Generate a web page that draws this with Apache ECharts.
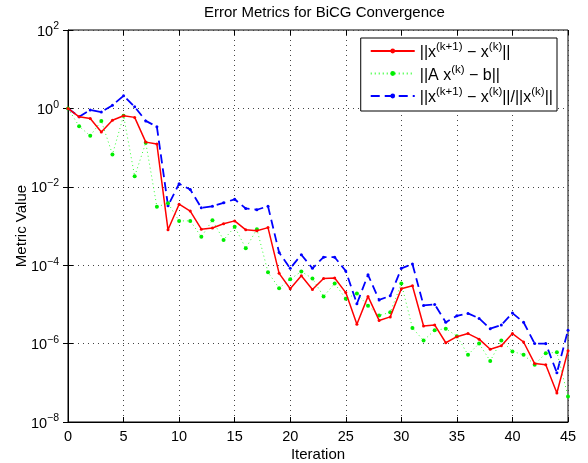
<!DOCTYPE html>
<html>
<head>
<meta charset="utf-8">
<script src="https://cdn.jsdelivr.net/npm/echarts@6/dist/echarts.min.js"></script>
<style>
html, body { margin: 0; padding: 0; background: #fff; }
#main { width: 588px; height: 463px; }
</style>
</head>
<body>
<div id="main"></div>
<script>
// 迭代次数
var iterations = [0, 1, 2, 3, 4, 5, 6, 7, 8, 9, 10, 11, 12, 13, 14, 15, 16, 17, 18, 19, 20, 21, 22,
	23, 24, 25, 26, 27, 28, 29, 30, 31, 32, 33, 34, 35, 36, 37, 38, 39, 40, 41, 42, 43, 44, 45];
// ||x(k+1) - x(k)||
var stepNorm = [1.0, 0.61, 0.55, 0.25, 0.50, 0.65, 0.59, 0.138, 0.123, 8.0e-4, 3.6e-3, 2.4e-3,
	8.3e-4, 8.9e-4, 1.14e-3, 1.35e-3, 8.0e-4, 7.6e-4, 9.1e-4, 6.2e-5, 2.5e-5, 5.4e-5, 2.4e-5,
	4.6e-5, 4.7e-5, 2.0e-5, 3.1e-6, 1.6e-5, 3.9e-6, 4.8e-6, 2.5e-5, 3.0e-5, 2.8e-6, 3.0e-6,
	1.05e-6, 1.5e-6, 1.8e-6, 1.3e-6, 7.2e-7, 8.8e-7, 1.8e-6, 1.1e-6, 3.1e-7, 2.9e-7, 5.5e-8, 6.6e-7];
// ||A x(k) - b||
var residual = [1.0, 0.35, 0.20, 0.48, 0.067, 0.65, 0.0185, 0.133, 3.1e-3, 3.8e-3, 1.35e-3, 1.35e-3,
	5.3e-4, 1.4e-3, 4.4e-4, 9.5e-4, 2.7e-4, 8.3e-4, 6.6e-5, 2.6e-5, 4.4e-5, 6.9e-5, 4.6e-5,
	1.6e-5, 3.4e-5, 1.4e-5, 1.9e-5, 9.2e-6, 5.2e-6, 6.3e-6, 3.4e-5, 2.5e-6, 1.2e-6, 2.2e-6,
	2.4e-6, 1.55e-6, 5.2e-7, 1.0e-6, 3.6e-7, 1.2e-6, 6.3e-7, 5.2e-7, 2.9e-7, 5.7e-7, 6.0e-7, 4.5e-8];
// ||x(k+1) - x(k)|| / ||x(k)||
var relChange = [1.0, 0.61, 0.91, 0.81, 1.2, 2.1, 1.1, 0.48, 0.34, 3.3e-3, 0.012, 8.5e-3,
	2.9e-3, 3.2e-3, 3.9e-3, 4.8e-3, 2.8e-3, 2.6e-3, 3.2e-3, 2.1e-4, 8.3e-5, 1.85e-4, 8.3e-5,
	1.6e-4, 1.6e-4, 7.1e-5, 1.04e-5, 5.7e-5, 1.3e-5, 1.65e-5, 8.3e-5, 1.07e-4, 9.4e-6, 1.0e-5,
	3.5e-6, 5.1e-6, 5.9e-6, 4.4e-6, 2.4e-6, 3.0e-6, 6.0e-6, 3.5e-6, 1.0e-6, 1.0e-6, 1.8e-7, 2.2e-6];

var seriesNames = ['stepNorm', 'residual', 'relChange'];
// 图例里的上标文字
var legendLabels = {
	stepNorm: '{n|||x}{s|(k+1)}{n| − x}{s|(k)}{n|||}',
	residual: '{n|||A x}{s|(k)}{n| − b||}',
	relChange: '{n|||x}{s|(k+1)}{n| − x}{s|(k)}{n|||/||x}{s|(k)}{n|||}'
};

var font = '"Liberation Sans", Arial, sans-serif';

function pairs(values) {
	return iterations.map(function (it, i) { return [it, values[i]]; });
}

var myChart = echarts.init(document.getElementById('main'));

var option = {
	backgroundColor: '#fff',
	animation: false,
	title: {
		text: 'Error Metrics for BiCG Convergence',
		left: 199,
		top: 0,
		textStyle: { fontFamily: font, fontSize: 15, fontWeight: 'normal', color: '#000' }
	},
	grid: {
		left: 68, right: 20, top: 30, bottom: 41,
		outerBoundsMode: 'none',
		show: true, borderColor: '#000', borderWidth: 1
	},
	legend: {
		orient: 'vertical',
		right: 31,
		top: 38,
		padding: [3, 4, 5, 9],
		itemGap: 2.5,
		itemWidth: 44,
		itemHeight: 6,
		backgroundColor: '#fff',
		borderColor: '#000',
		borderWidth: 1,
		borderRadius: 0,
		data: seriesNames,
		formatter: function (name) { return legendLabels[name]; },
		textStyle: {
			fontFamily: font,
			color: '#000',
			rich: {
				n: { fontFamily: font, fontSize: 16, lineHeight: 20, verticalAlign: 'bottom', color: '#000' },
				s: { fontFamily: font, fontSize: 11.5, lineHeight: 20, verticalAlign: 'top', color: '#000' }
			}
		}
	},
	xAxis: [{
		type: 'value',
		min: 0, max: 45, interval: 5,
		name: 'Iteration',
		nameLocation: 'middle',
		nameGap: 25,
		nameMoveOverlap: false,
		nameTextStyle: { fontFamily: font, fontSize: 15, color: '#000' },
		axisLine: { lineStyle: { color: '#000', width: 1 } },
		axisTick: { inside: true, length: 5, lineStyle: { color: '#000' } },
		axisLabel: { fontFamily: font, fontSize: 14.5, color: '#000', margin: 7 },
		splitLine: { show: true, lineStyle: { color: '#444', type: [1, 4], width: 1 } }
	}, {
		type: 'value', position: 'top',
		min: 0, max: 45, interval: 5,
		axisLine: { show: false },
		axisTick: { inside: true, length: 5, lineStyle: { color: '#000' } },
		axisLabel: { show: false },
		splitLine: { show: false }
	}],
	yAxis: [{
		type: 'log', logBase: 10,
		min: 1e-8, max: 1e2, interval: 2,
		name: 'Metric Value',
		nameLocation: 'middle',
		nameGap: 39,
		nameMoveOverlap: false,
		nameTextStyle: { fontFamily: font, fontSize: 15, color: '#000' },
		axisLine: { show: true, lineStyle: { color: '#000', width: 1 } },
		axisTick: { inside: true, length: 5, lineStyle: { color: '#000' } },
		axisLabel: {
			margin: 9,
			formatter: function (v) {
				var e = Math.round(Math.log10(v));
				return '{b|10}{e|' + (e < 0 ? '−' + (-e) : e) + '}';
			},
			rich: {
				b: { fontFamily: font, fontSize: 14.5, color: '#000', lineHeight: 18, verticalAlign: 'bottom' },
				e: { fontFamily: font, fontSize: 10.5, color: '#000', lineHeight: 18, verticalAlign: 'top' }
			}
		},
		splitLine: { show: true, lineStyle: { color: '#444', type: [1, 4], width: 1 } }
	}, {
		type: 'log', logBase: 10, position: 'right',
		min: 1e-8, max: 1e2, interval: 2,
		axisLine: { show: false },
		axisTick: { inside: true, length: 5, lineStyle: { color: '#000' } },
		axisLabel: { show: false },
		splitLine: { show: false }
	}],
	series: [
		{
			name: 'stepNorm', type: 'line',
			data: pairs(stepNorm),
			symbol: 'circle', symbolSize: 3,
			itemStyle: { color: '#ff0000' },
			lineStyle: { color: '#ff0000', width: 1.5, type: 'solid' },
			z: 4
		},
		{
			name: 'residual', type: 'line',
			data: pairs(residual),
			symbol: 'circle', symbolSize: 4,
			itemStyle: { color: '#00ee00' },
			lineStyle: { color: '#33ff33', width: 1, type: [1, 3] },
			z: 3
		},
		{
			name: 'relChange', type: 'line',
			data: pairs(relChange),
			symbol: 'circle', symbolSize: 3,
			itemStyle: { color: '#0000ff' },
			lineStyle: { color: '#0000ff', width: 1.8, type: [9, 5] },
			z: 2
		}
	]
};

myChart.setOption(option);
window.onresize = myChart.resize;
</script>
</body>
</html>
